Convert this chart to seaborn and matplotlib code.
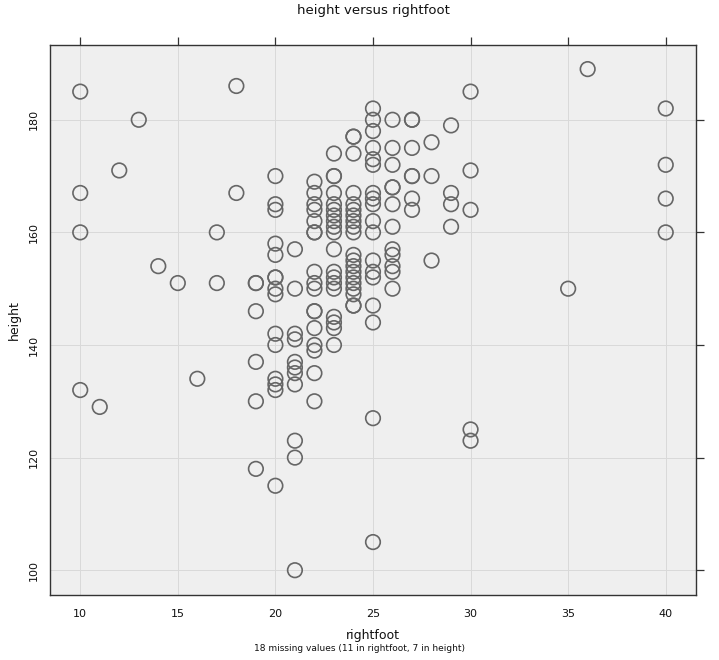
import pandas as pd
import matplotlib.pyplot as plt
import seaborn as sns

# values, one rightfoot per height
rightfoot = ([10] * 4 + [11, 12, 13, 14, 15, 16] + [17] * 2 + [18] * 2 + [19] * 6
             + [20] * 15 + [21] * 11 + [22] * 17 + [23] * 19 + [24] * 20 + [25] * 18
             + [26] * 12 + [27] * 7 + [28] * 3 + [29] * 4 + [30] * 5 + [35, 36] + [40] * 4)
height = [
    185, 167, 160, 132,
    129, 171, 180, 154, 151, 134,
    160, 151,
    186, 167,
    151, 151, 146, 137, 130, 118,
    170, 165, 164, 158, 156, 152, 152, 150, 149, 142, 140, 134, 133, 132, 115,
    157, 150, 142, 141, 137, 136, 135, 133, 123, 120, 100,
    169, 167, 165, 164, 162, 160, 160, 153, 151, 150, 146, 146, 143, 140, 139, 135, 130,
    174, 170, 170, 167, 165, 164, 163, 162, 161, 160, 157, 153, 152, 151, 150, 145, 144, 143, 140,
    177, 177, 174, 167, 165, 164, 163, 162, 161, 160, 156, 155, 154, 153, 152, 151, 150, 149, 147, 147,
    182, 180, 178, 175, 173, 172, 167, 166, 165, 162, 160, 155, 153, 152, 147, 144, 127, 105,
    180, 175, 172, 168, 168, 165, 161, 157, 156, 154, 153, 150,
    180, 180, 175, 170, 170, 166, 164,
    176, 170, 155,
    179, 167, 165, 161,
    185, 171, 164, 125, 123,
    150, 189,
    182, 172, 166, 160,
]
x_ticks = [10, 15, 20, 25, 30, 35, 40]
y_ticks = [100, 120, 140, 160, 180]

df = pd.DataFrame({"rightfoot": rightfoot, "height": height})

sns.set_style("white")
plt.rcParams["font.family"] = ["DejaVu Sans"]

fig = plt.figure(figsize=(7.19, 6.60), dpi=100)
ax = fig.add_axes([0.0695, 0.0985, 0.8985, 0.8335])
ax.set_facecolor("#efefef")

sns.scatterplot(data=df, x="rightfoot", y="height", ax=ax, s=110,
                facecolor="none", edgecolor="#666666", linewidth=1.2, zorder=3)

ax.set_xlim(8.45, 41.55)
ax.set_ylim(95.6, 193.3)
ax.set_xticks(x_ticks)
ax.set_yticks(y_ticks)
ax.grid(True, color="#d9d9d9", linewidth=0.7, zorder=0)
ax.set_axisbelow(True)

for sp in ax.spines.values():
    sp.set_color("#333333")
    sp.set_linewidth(1.0)

ax.tick_params(axis="both", which="both", direction="out", length=6, width=0.9,
               color="#333333", labelsize=8, labelcolor="#111111", top=True, right=True,
               labeltop=False, labelright=False)
ax.tick_params(axis="x", pad=4)
ax.tick_params(axis="y", pad=2)
for lab in ax.get_yticklabels():
    lab.set_rotation(90)
    lab.set_va("center")

ax.set_xlabel("rightfoot", fontsize=9, labelpad=7, color="#111111")
ax.set_ylabel("height", fontsize=9, labelpad=6, color="#111111")
ax.set_title("height versus rightfoot", fontsize=9.5, pad=22, color="#111111")
fig.text(0.5, 0.01, "18 missing values (11 in rightfoot, 7 in height)",
         ha="center", va="bottom", fontsize=6.5, color="#111111")

fig.savefig("out.png", dpi=100, facecolor="white")
